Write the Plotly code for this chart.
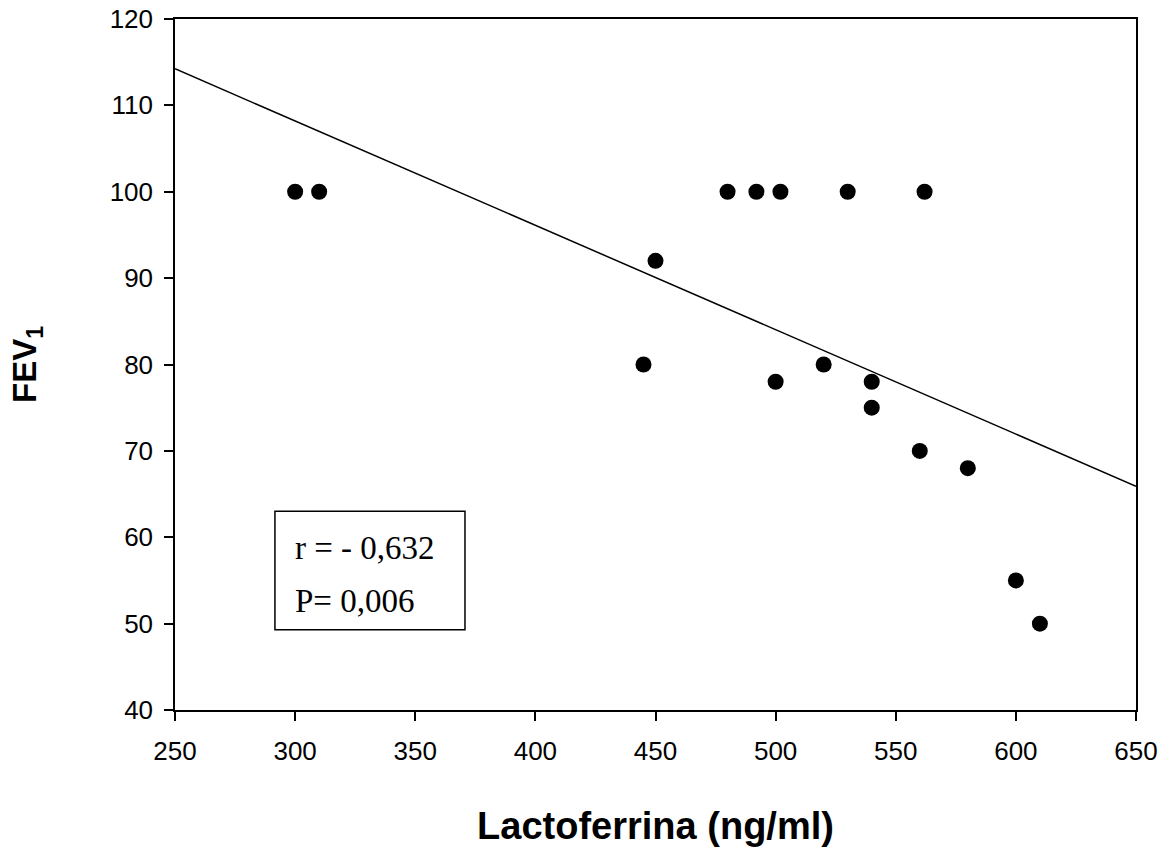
import numpy as np
import plotly.graph_objects as go

# Data
lactoferrina = [300, 310, 445, 450, 480, 492, 500, 502, 520, 530, 540, 540, 560, 562, 580, 600, 610]
fev1 = [100, 100, 80, 92, 100, 100, 78, 100, 80, 100, 78, 75, 70, 100, 68, 55, 50]
x_ticks = [250, 300, 350, 400, 450, 500, 550, 600, 650]
y_ticks = [40, 50, 60, 70, 80, 90, 100, 110, 120]
stats_lines = ["r = - 0,632", "P= 0,006"]

slope, intercept = np.polyfit(lactoferrina, fev1, 1)
line_x = [x_ticks[0], x_ticks[-1]]
line_y = [slope * v + intercept for v in line_x]

fig = go.Figure()
fig.add_trace(go.Scatter(x=line_x, y=line_y, mode="lines",
                         line=dict(color="black", width=1.5), hoverinfo="skip"))
fig.add_trace(go.Scatter(x=lactoferrina, y=fev1, mode="markers",
                         marker=dict(color="black", size=16)))

axis_font = dict(family="Liberation Sans, Arial, sans-serif", size=26, color="black")
fig.update_layout(
    width=1171, height=852,
    margin=dict(l=175, r=35, t=19, b=142),
    paper_bgcolor="white", plot_bgcolor="white",
    showlegend=False,
    xaxis=dict(range=[250, 650], tickvals=x_ticks, ticks="outside", ticklen=9, tickwidth=1.5,
               tickcolor="black", showline=True, linecolor="black", linewidth=1.5, mirror=True,
               showgrid=False, zeroline=False, tickfont=axis_font, automargin=False,
               ticklabelstandoff=8,
               title=dict(text="<b>Lactoferrina (ng/ml)</b>", standoff=47,
                          font=dict(family="Liberation Sans, Arial, sans-serif", size=38, color="black"))),
    yaxis=dict(range=[40, 120], tickvals=y_ticks, ticks="outside", ticklen=9, tickwidth=1.5,
               tickcolor="black", showline=True, linecolor="black", linewidth=1.5, mirror=True,
               showgrid=False, zeroline=False, tickfont=axis_font, automargin=False,
               ticklabelstandoff=6,
               title=dict(text="<b>FEV<sub>1</sub></b>", standoff=63,
                          font=dict(family="Liberation Sans, Arial, sans-serif", size=33, color="black"))),
)

fig.add_shape(type="rect", xref="x", yref="y", x0=291.6, x1=370.7, y0=49.3, y1=63.0,
              line=dict(color="black", width=1.5), fillcolor="white")
for i, txt in enumerate(stats_lines):
    fig.add_annotation(x=299, y=[58.7, 52.6][i], xref="x", yref="y", text=txt, showarrow=False,
                       xanchor="left", yanchor="middle",
                       font=dict(family="Liberation Serif, Times New Roman, serif", size=33, color="black"))

fig.write_html("out.html")
